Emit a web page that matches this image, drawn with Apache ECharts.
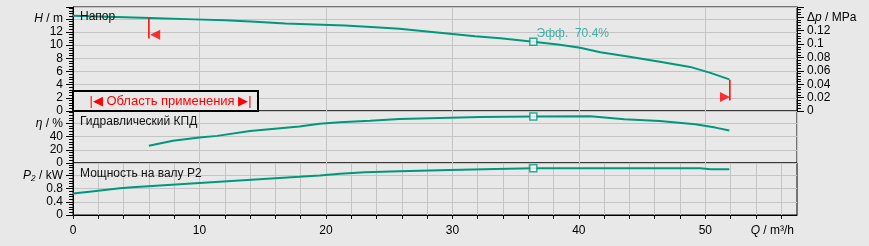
<!DOCTYPE html>
<html><head><meta charset="utf-8">
<script src="https://cdn.jsdelivr.net/npm/echarts@6/dist/echarts.min.js"></script>
<style>html,body{margin:0;padding:0;background:#e8e8e8}#c{width:869px;height:246px}</style>
</head><body><div id="c"></div>
<script>
// ---- data ----
const qHead = [0, 6.1, 9.6, 12, 14.4, 16.8, 19.1, 21.5, 23.9, 25.8, 27.4, 29.8, 31.8, 33.8, 36.4, 38.5, 40.1, 41.7, 44, 46.4, 48.8, 50.4, 51.9];
const head  = [14.48, 14.13, 13.92, 13.77, 13.57, 13.31, 13.16, 13.0, 12.73, 12.5, 12.2, 11.74, 11.36, 11.05, 10.52, 10.06, 9.6, 8.92, 8.23, 7.47, 6.7, 5.79, 4.8];
const qEff = [6.0, 7.9, 10, 11.4, 14, 17.9, 19.5, 21.1, 23.5, 25.8, 29, 32.2, 36.4, 40.9, 43.6, 46.4, 49.2, 50.8, 51.9];
const eff  = [26, 33.5, 38.5, 41, 48.5, 55, 59.5, 61.5, 64, 66.5, 68, 69.5, 70.4, 70.5, 66, 63.5, 58.5, 53.5, 49];
const qPower = [0, 1.3, 3.7, 4.7, 10, 17.9, 19.5, 21.1, 23.1, 25.8, 29.8, 33.4, 36.4, 41.7, 49.6, 50.4, 51.9];
const power  = [0.65, 0.71, 0.81, 0.84, 0.97, 1.16, 1.2, 1.25, 1.3, 1.33, 1.37, 1.4, 1.42, 1.42, 1.42, 1.39, 1.39];
const dutyQ = [36.4];
const dutyHead = [10.52];
const dutyEff = [70.4];
const dutyPower = [1.42];
const limitLeftQ = [6.0, 6.0];
const limitLeftH = [14.1, 11.0];
const limitRightQ = [51.94, 51.94];
const limitRightH = [4.75, 1.6];
const arrowLeft = [6.5, 11.6];
const arrowRight = [51.55, 2.13];
const xTickValues = [0, 2, 4, 6, 8, 10, 12, 14, 16, 18, 20, 22, 24, 26, 28, 30, 32, 34, 36, 38, 40, 42, 44, 46, 48, 50, 52, 54, 56];
const xLabelValues = [0, 10, 20, 30, 40, 50];
const qTitleAt = 55.3;
const dutyText = 'Эфф.  70.4%';
const headTitle = 'Напор';
const effTitle = 'Гидравлический КПД';
const powerTitle = 'Мощность на валу P2';
const rangeText = '|◀ Область применения ▶|';

// ---- style ----
const TEAL = '#00987c';
const GRID = '#c4c4c4';
const FONT = 'Liberation Sans, Arial, sans-serif';
const RED = '#ff0000';
const zip = (a, b) => a.map((v, i) => [v, b[i]]);
const near = (a, b) => Math.abs(a - b) < 1e-6;
const isMult = (v, s) => Math.abs(v / s - Math.round(v / s)) < 1e-6;
const fmtNum = v => String(+v.toFixed(4));

const chart = echarts.init(document.getElementById('c'), null, {renderer: 'canvas'});
const gridBase = {left: 73, width: 724, show: true, borderColor: '#000', borderWidth: 1, backgroundColor: 'transparent'};
const labelBase = {color: '#000', fontFamily: FONT, fontSize: 12};
const richI = {i: {fontStyle: 'italic', color: '#000', fontFamily: FONT, fontSize: 12}, n: {color: '#000', fontFamily: FONT, fontSize: 12}};

function xAxisCfg(idx, bottom) {
  return {
    type: 'value', gridIndex: idx, min: 0, max: 57.25, interval: 10,
    splitLine: {show: true, lineStyle: {color: GRID, width: 1}},
    axisLine: {show: bottom, onZero: false, lineStyle: {color: '#000'}},
    axisTick: bottom ? {show: true, length: 4, customValues: xTickValues, lineStyle: {color: '#000'}} : {show: false},
    axisLabel: bottom ? Object.assign({}, labelBase, {
      show: true, margin: 10, customValues: xLabelValues.concat([qTitleAt]),
      formatter: v => near(v, qTitleAt) ? '{i|Q}{n| / m³/h}' : fmtNum(v), rich: richI
    }) : {show: false}
  };
}
function yAxisCfg(idx, pos, max, interval, titleAt, title, split) {
  return {
    type: 'value', gridIndex: idx, position: pos, min: 0, max: max, interval: interval,
    splitLine: {show: split, lineStyle: {color: GRID, width: 1}},
    axisLine: {show: true, onZero: false, lineStyle: {color: '#000'}},
    axisTick: {show: true, length: 7, lineStyle: {color: '#000'}},
    minorTick: {show: true, splitNumber: 5, length: 4, lineStyle: {color: '#000'}},
    axisLabel: Object.assign({}, labelBase, {
      margin: 10, showMaxLabel: true, rich: richI,
      formatter: v => !isMult(v, interval) ? '' : (near(v, titleAt) ? title : fmtNum(v))
    })
  };
}

const option = {
  backgroundColor: '#e8e8e8',
  animation: false,
  grid: [
    Object.assign({top: 7, height: 104}, gridBase),
    Object.assign({top: 111, height: 52}, gridBase),
    Object.assign({top: 163, height: 52}, gridBase)
  ],
  xAxis: [xAxisCfg(0, false), xAxisCfg(1, false), xAxisCfg(2, true)],
  yAxis: [
    yAxisCfg(0, 'left', 15.8, 2, 14, '{i|H}{n| / m}', true),
    yAxisCfg(0, 'right', 0.1554, 0.02, 0.14, '{n|Δ}{i|p}{n| / MPa}', false),
    yAxisCfg(1, 'left', 78.6, 20, 60, '{i|η}{n| / %}', true),
    yAxisCfg(2, 'left', 1.58, 0.4, 1.2, '{i|P₂}{n| / kW}', true)
  ],
  series: [
    {type: 'line', xAxisIndex: 0, yAxisIndex: 0, data: zip(qHead, head), symbol: 'none', lineStyle: {color: TEAL, width: 2}, z: 3},
    {type: 'line', xAxisIndex: 1, yAxisIndex: 2, data: zip(qEff, eff), symbol: 'none', lineStyle: {color: TEAL, width: 2}, z: 3},
    {type: 'line', xAxisIndex: 2, yAxisIndex: 3, data: zip(qPower, power), symbol: 'none', lineStyle: {color: TEAL, width: 2}, z: 3},
    {type: 'line', xAxisIndex: 0, yAxisIndex: 0, data: zip(limitLeftQ, limitLeftH), symbol: 'none', lineStyle: {color: RED, width: 1.5}, z: 4},
    {type: 'line', xAxisIndex: 0, yAxisIndex: 0, data: zip(limitRightQ, limitRightH), symbol: 'none', lineStyle: {color: RED, width: 1.5}, z: 4},
    {type: 'scatter', xAxisIndex: 0, yAxisIndex: 0, data: [arrowLeft], symbol: 'triangle', symbolSize: [10, 10], symbolRotate: 90, itemStyle: {color: RED}, z: 4},
    {type: 'scatter', xAxisIndex: 0, yAxisIndex: 0, data: [arrowRight], symbol: 'triangle', symbolSize: [10, 10], symbolRotate: -90, itemStyle: {color: RED}, z: 4},
    {type: 'scatter', xAxisIndex: 0, yAxisIndex: 0, data: zip(dutyQ, dutyHead), symbol: 'rect', symbolSize: 7,
      itemStyle: {color: '#ffffff', borderColor: TEAL, borderWidth: 1.5}, z: 5,
      label: {show: true, position: 'right', distance: 0, offset: [-1, -8], formatter: dutyText, color: '#1a9e96', fontFamily: FONT, fontSize: 12}},
    {type: 'scatter', xAxisIndex: 1, yAxisIndex: 2, data: zip(dutyQ, dutyEff), symbol: 'rect', symbolSize: 7,
      itemStyle: {color: '#ffffff', borderColor: TEAL, borderWidth: 1.5}, z: 5},
    {type: 'scatter', xAxisIndex: 2, yAxisIndex: 3, data: zip(dutyQ, dutyPower), symbol: 'rect', symbolSize: 7,
      itemStyle: {color: '#ffffff', borderColor: TEAL, borderWidth: 1.5}, z: 5}
  ],
  graphic: [
    {type: 'text', left: 80, top: 11, z: 10, style: {text: headTitle, fill: '#111', font: '12px ' + FONT}},
    {type: 'text', left: 80, top: 116, z: 10, style: {text: effTitle, fill: '#111', font: '12px ' + FONT}},
    {type: 'text', left: 80, top: 168, z: 10, style: {text: powerTitle, fill: '#111', font: '12px ' + FONT}},
    {type: 'rect', z: 10, shape: {x: 73, y: 91, width: 185, height: 20}, style: {fill: '#e8e8e8', stroke: '#000', lineWidth: 2}},
    {type: 'text', z: 11, x: 170.5, y: 101, style: {text: rangeText, fill: RED, font: '13px ' + FONT, align: 'center', verticalAlign: 'middle'}}
  ]
};
chart.setOption(option);
</script></body></html>
